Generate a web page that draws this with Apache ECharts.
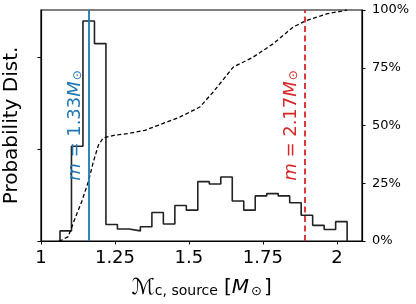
<!DOCTYPE html>
<html><head><meta charset="utf-8">
<script src="https://cdn.jsdelivr.net/npm/echarts@6/dist/echarts.min.js"></script>
<style>html,body{margin:0;padding:0;background:#fff}#c{width:416px;height:304px}</style>
</head><body><div id="c"></div>
<script>
const xTicks = [1, 1.25, 1.5, 1.75, 2];
const leftTicks = [0, 2, 4];
const rightTicks = [0, 25, 50, 75, 100];
const binEdges = [1.0642, 1.1030, 1.1418, 1.1807, 1.2195, 1.2583, 1.2971, 1.3359, 1.3748, 1.4136,
  1.4524, 1.4912, 1.5300, 1.5689, 1.6077, 1.6465, 1.6853, 1.7241, 1.7630, 1.8018,
  1.8406, 1.8794, 1.9182, 1.9571, 1.9959, 2.0347];
const histDensity = [0.22, 2.06, 4.78, 4.29, 0.36, 0.26, 0.22, 0.31, 0.62, 0.37,
  0.77, 0.67, 1.29, 1.24, 1.39, 0.87, 0.67, 0.98, 1.03, 0.98,
  0.83, 0.56, 0.34, 0.25, 0.42];
const cdfX = [1.060, 1.070, 1.092, 1.115, 1.1375, 1.160, 1.177, 1.194, 1.210, 1.250, 1.295, 1.351,
  1.396, 1.442, 1.470, 1.537, 1.582, 1.650, 1.717, 1.785, 1.852, 1.898, 1.965, 2.016, 2.034];
const cdfPct = [0, 0.4, 1.9, 9.8, 17.0, 25.7, 34.3, 41.5, 44.6, 45.8, 46.5, 47.9,
  50.1, 52.3, 53.7, 58.0, 64.5, 75.3, 79.6, 85.4, 92.6, 95.5, 98.3, 99.5, 100];
const massLines = [1.160, 1.886];
const massLabels = ['1.33', '2.17'];

const histData = [[binEdges[0], 0]];
for (let i = 0; i < histDensity.length; i++) histData.push([binEdges[i], histDensity[i]]);
histData.push([binEdges[binEdges.length - 1], 0]);
const cdfData = cdfX.map((x, i) => [x, cdfPct[i]]);

const F = 'DejaVu Sans';
const lblRich = {
  it: {fontStyle: 'italic', fontSize: 18, fontFamily: F},
  n: {fontSize: 18, fontFamily: F},
  sub: {fontSize: 12, fontFamily: F, padding: [6, 0, 0, 1]}
};
const chart = echarts.init(document.getElementById('c'), null, {renderer: 'canvas'});
chart.setOption({
  animation: false,
  backgroundColor: '#fff',
  grid: {left: 41, right: 54, top: 10, bottom: 63, containLabel: false, outerBoundsMode: 'none',
    show: true, borderColor: '#000', borderWidth: 1.2, backgroundColor: 'transparent'},
  xAxis: {
    type: 'value', min: 1, max: 2.085, interval: 0.25,
    splitLine: {show: false},
    axisLine: {show: true, lineStyle: {color: '#000', width: 1.2}},
    axisTick: {show: true, length: 3.5, customValues: xTicks, lineStyle: {color: '#000', width: 1}},
    axisLabel: {customValues: xTicks, color: '#000', fontSize: 18, fontFamily: F, margin: 8},
    name: '{mc|\u2133}{sub|c, source} {n|[}{it|M}{sub2|\u2299}{n|]}',
    nameLocation: 'middle', nameGap: 36,
    nameTextStyle: {
      color: '#000', fontFamily: F, fontSize: 19,
      rich: {
        mc: {fontSize: 22, fontFamily: F, color: '#000'},
        sub: {fontSize: 14, fontFamily: F, color: '#000', padding: [7, 0, 0, 0]},
        n: {fontSize: 20, fontFamily: F, color: '#000'},
        it: {fontSize: 20, fontFamily: F, fontStyle: 'italic', color: '#000'},
        sub2: {fontSize: 13, fontFamily: F, color: '#000', padding: [7, 2, 0, 2]}
      }
    }
  },
  yAxis: [{
    type: 'value', min: 0, max: 5.02, interval: 2, position: 'left',
    splitLine: {show: false},
    axisLine: {show: true, lineStyle: {color: '#000', width: 1.2}},
    axisTick: {show: true, length: 3.5, customValues: leftTicks, lineStyle: {color: '#000'}},
    axisLabel: {show: false},
    name: 'Probability Dist.', nameLocation: 'middle', nameRotate: 90, nameGap: 19,
    nameTextStyle: {color: '#000', fontFamily: F, fontSize: 20}
  }, {
    type: 'value', min: 0, max: 100, interval: 25, position: 'right',
    splitLine: {show: false},
    axisLine: {show: true, lineStyle: {color: '#000', width: 1.2}},
    axisTick: {show: true, length: 3.5, customValues: rightTicks, lineStyle: {color: '#000'}},
    axisLabel: {customValues: rightTicks, formatter: '{value}%', color: '#000', fontSize: 13, fontFamily: F, margin: 10}
  }],
  series: [{
    type: 'line', name: 'hist', data: histData, step: 'end', yAxisIndex: 0,
    symbol: 'none', lineStyle: {color: '#222', width: 1.6}, z: 3,
    markLine: {
      symbol: 'none', silent: true, animation: false,
      data: [
        {xAxis: massLines[0], lineStyle: {color: '#1f77b4', width: 1.8, type: 'solid'},
         label: {show: true, position: 'insideMiddleTop', distance: 4, color: '#1f77b4',
           formatter: '{it|m}{n| = ' + massLabels[0] + '}{it|M}{sub|\u2299}',
           rich: lblRich}},
        {xAxis: massLines[1], lineStyle: {color: '#d62728', width: 1.8, type: [6, 3.5]},
         label: {show: true, position: 'insideMiddleTop', distance: 4, color: '#d62728',
           formatter: '{it|m}{n| = ' + massLabels[1] + '}{it|M}{sub|\u2299}',
           rich: lblRich}}
      ]
    }
  }, {
    type: 'line', name: 'cdf', data: cdfData, yAxisIndex: 1,
    symbol: 'none', lineStyle: {color: '#000', width: 1.3, type: [4, 2.5]}, z: 4
  }]
});
</script></body></html>
